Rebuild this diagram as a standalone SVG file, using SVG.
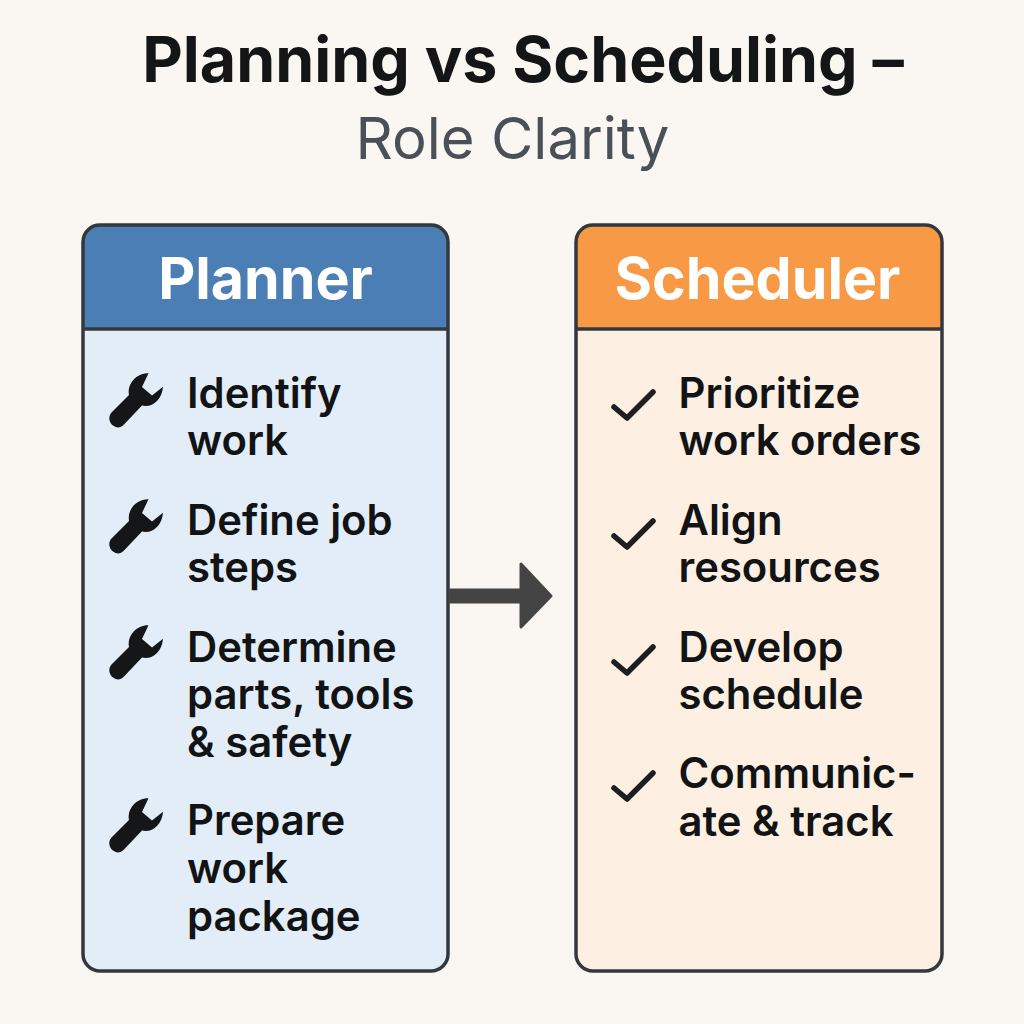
<svg xmlns="http://www.w3.org/2000/svg" width="1024" height="1024" viewBox="0 0 1024 1024">
<style>
text{font-family:"Inter","Liberation Sans",sans-serif}
.t{font-size:41.800px;font-weight:600;fill:#111315}
.h{font-size:57.300px;font-weight:700;fill:#fff;text-anchor:middle}
.frame{fill:none;stroke:#33383e;stroke-width:3.500}
.div{stroke:#33383e;stroke-width:3.500}
.chk{fill:none;stroke:#1c1e20;stroke-width:5.500;stroke-linecap:round;stroke-linejoin:round}
</style>
<defs>
<path id="wrench" fill="#141618" d="M148.500 373.300C137 373 127 383 129 395L111.500 412.500C107.500 417 109.500 423 113 425.500C117 428.500 120.500 428 124 424.500L142 405.500C152 408 162 400 163 386.700L152 395.500L142 387L148.500 373.300Z"/>
<path id="check" class="chk" d="M614 407L627 418L653 392"/>
</defs>
<rect width="1024" height="1024" fill="#faf7f3"/>
<text x="523" y="81.500" text-anchor="middle" font-size="62.700" font-weight="700" fill="#131517">Planning vs Scheduling –</text>
<text x="512.500" y="159" text-anchor="middle" font-size="58" font-weight="400" fill="#4a5058">Role Clarity</text>
<g id="planner">
<path d="M83 329V242A17 17 0 0 1 100 225H431A17 17 0 0 1 448 242V329Z" fill="#4c7eb6"/>
<path d="M83 329H448V954A17 17 0 0 1 431 971H100A17 17 0 0 1 83 954Z" fill="#e3edf7"/>
<rect class="frame" x="83" y="225" width="365" height="746" rx="17"/>
<line class="div" x1="83" y1="329" x2="448" y2="329"/>
<text class="h" x="265.500" y="298.500">Planner</text>
<use href="#wrench"/>
<use href="#wrench" y="126"/>
<use href="#wrench" y="252"/>
<use href="#wrench" y="425"/>
<text class="t" x="187" y="408">Identify</text>
<text class="t" x="187" y="455">work</text>
<text class="t" x="187" y="535">Define job</text>
<text class="t" x="187" y="582">steps</text>
<text class="t" x="187" y="662">Determine</text>
<text class="t" x="187" y="709">parts, tools</text>
<text class="t" x="187" y="757">&amp; safety</text>
<text class="t" x="187" y="835">Prepare</text>
<text class="t" x="187" y="883">work</text>
<text class="t" x="187" y="931">package</text>
</g>
<g id="scheduler">
<path d="M576 329V242A17 17 0 0 1 593 225H925A17 17 0 0 1 942 242V329Z" fill="#f89945"/>
<path d="M576 329H942V954A17 17 0 0 1 925 971H593A17 17 0 0 1 576 954Z" fill="#fdefe1"/>
<rect class="frame" x="576" y="225" width="366" height="746" rx="17"/>
<line class="div" x1="576" y1="329" x2="942" y2="329"/>
<text class="h" x="757.500" y="298.500">Scheduler</text>
<use href="#check"/>
<use href="#check" y="129"/>
<use href="#check" y="255"/>
<use href="#check" y="381"/>
<text class="t" x="678.500" y="408">Prioritize</text>
<text class="t" x="678.500" y="455">work orders</text>
<text class="t" x="678.500" y="535">Align</text>
<text class="t" x="678.500" y="582">resources</text>
<text class="t" x="678.500" y="662">Develop</text>
<text class="t" x="678.500" y="709">schedule</text>
<text class="t" x="678.500" y="788">Communic-</text>
<text class="t" x="678.500" y="836">ate &amp; track</text>
</g>
<g id="connectors">
<path d="M450 590H521V564L551 596L521 627V602H450Z" fill="#444" stroke="#444" stroke-width="3" stroke-linejoin="round"/>
</g>
</svg>
